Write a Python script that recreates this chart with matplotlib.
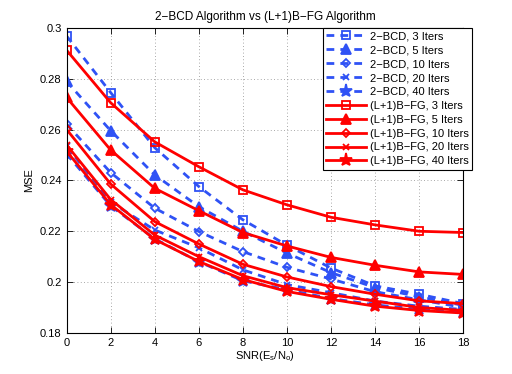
import matplotlib
matplotlib.use('Agg')
import matplotlib.pyplot as plt
import numpy as np

plt.rcParams['font.family'] = ['Liberation Sans', 'DejaVu Sans']
plt.rcParams['mathtext.default'] = 'regular'

snr = [0, 2, 4, 6, 8, 10, 12, 14, 16, 18]

bcd3 = [0.2969, 0.2746, 0.2529, 0.2376, 0.2245, 0.2145, 0.2055, 0.1985, 0.1952, 0.1915]
bcd5 = [0.2790, 0.2596, 0.2422, 0.2297, 0.2200, 0.2114, 0.2037, 0.1978, 0.1942, 0.1908]
bcd10 = [0.2622, 0.2431, 0.2291, 0.2199, 0.2120, 0.2058, 0.2012, 0.1962, 0.1930, 0.1900]
bcd20 = [0.2535, 0.2315, 0.2205, 0.2135, 0.2048, 0.1990, 0.1958, 0.1925, 0.1905, 0.1892]
bcd40 = [0.2505, 0.2300, 0.2170, 0.2080, 0.2005, 0.1970, 0.1935, 0.1910, 0.1893, 0.1882]

fg3 = [0.2913, 0.2706, 0.2552, 0.2454, 0.2363, 0.2304, 0.2255, 0.2225, 0.2200, 0.2195]
fg5 = [0.2727, 0.2520, 0.2369, 0.2281, 0.2195, 0.2142, 0.2097, 0.2066, 0.2040, 0.2030]
fg10 = [0.2601, 0.2386, 0.2238, 0.2150, 0.2070, 0.2020, 0.1982, 0.1952, 0.1926, 0.1915]
fg20 = [0.2540, 0.2325, 0.2185, 0.2100, 0.2025, 0.1978, 0.1950, 0.1925, 0.1900, 0.1888]
fg40 = [0.2515, 0.2305, 0.2168, 0.2081, 0.2010, 0.1963, 0.1932, 0.1905, 0.1888, 0.1878]

iters = [3, 5, 10, 20, 40]
markers = ['s', '^', 'D', 'x', '*']
msizes = [5.5, 6.5, 4.5, 4.5, 9.5]
blue = '#2f52f5'
red = '#ff0000'

fig = plt.figure(figsize=(5.12, 3.74), dpi=100)
ax = fig.add_axes([0.13, 0.11, 0.775, 0.815])

for it, mk, ms, ys in zip(iters, markers, msizes, [bcd3, bcd5, bcd10, bcd20, bcd40]):
    fill = blue if mk in ('^', '*') else 'none'
    ax.plot(snr, ys, color=blue, lw=2, dashes=(2.8, 2.2), marker=mk, ms=ms,
            mfc=fill, mec=blue, mew=1.3, label='2\u2212BCD, %d Iters' % it)

for it, mk, ms, ys in zip(iters, markers, msizes, [fg3, fg5, fg10, fg20, fg40]):
    fill = red if mk in ('^', '*') else 'none'
    ax.plot(snr, ys, color=red, lw=2, ls='-', marker=mk, ms=ms,
            mfc=fill, mec=red, mew=1.3, label='(L+1)B\u2212FG, %d Iters' % it)

ax.set_xlim(0, 18)
ax.set_ylim(0.18, 0.3)
ax.set_xticks(np.arange(0, 19, 2))
yt = [0.18, 0.2, 0.22, 0.24, 0.26, 0.28, 0.3]
ax.set_yticks(yt)
ax.set_yticklabels(['%g' % v for v in yt])
ax.tick_params(direction='in', top=True, right=True, labelsize=8, length=4, width=0.6)
for s in ax.spines.values():
    s.set_linewidth(0.8)
ax.grid(True, color='0.55', linestyle=(0, (1, 3)), lw=0.6)

ax.set_title('2\u2212BCD Algorithm vs (L+1)B\u2212FG Algorithm', fontsize=8.5, pad=6)
ax.set_xlabel('SNR(E$_s$/N$_o$)', fontsize=8, labelpad=1)
ax.set_ylabel('MSE', fontsize=8)

leg = ax.legend(loc='upper right', bbox_to_anchor=(1.023, 1.0), borderaxespad=0,
                fontsize=8, handlelength=3.6, handletextpad=0.4, labelspacing=0.35,
                borderpad=0.3, fancybox=False, framealpha=1)
leg.get_frame().set_edgecolor('black')
leg.get_frame().set_linewidth(0.8)

fig.savefig('out.png', dpi=100)
